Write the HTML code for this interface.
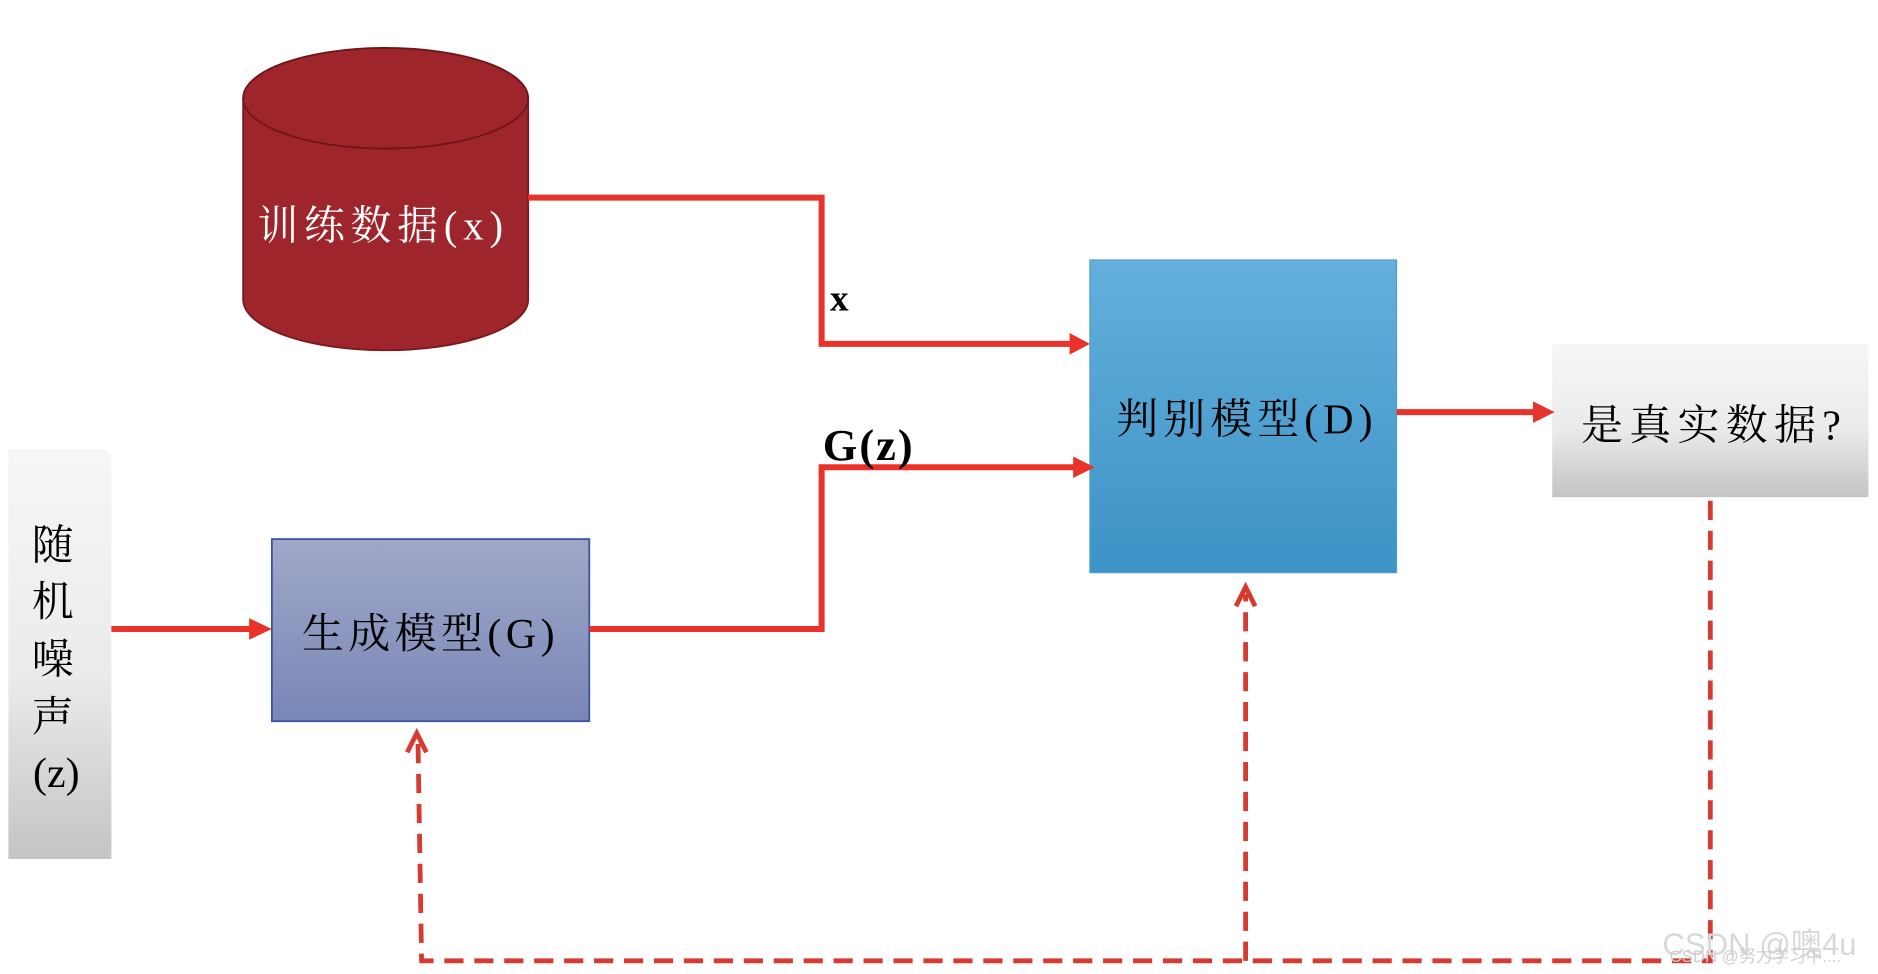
<!DOCTYPE html>
<html><head><meta charset="utf-8"><style>
html,body{margin:0;padding:0;background:#fff;width:1878px;height:974px;overflow:hidden}
</style></head><body>
<svg width="1878" height="974" viewBox="0 0 1568 813" preserveAspectRatio="none" xmlns="http://www.w3.org/2000/svg">
<defs>
<linearGradient id="gd" x1="0" y1="0" x2="0" y2="1"><stop offset="0" stop-color="#64afdc"/><stop offset="1" stop-color="#3d93c6"/></linearGradient>
<linearGradient id="gg" x1="0" y1="0" x2="0" y2="1"><stop offset="0" stop-color="#a0a8c8"/><stop offset="1" stop-color="#7987b6"/></linearGradient>
<linearGradient id="gw" x1="0" y1="0" x2="0" y2="1"><stop offset="0" stop-color="#f6f6f6"/><stop offset="0.55" stop-color="#ebebeb"/><stop offset="1" stop-color="#c4c4c4"/></linearGradient>
</defs>
<g font-family="'Liberation Serif','Noto Serif CJK SC',serif">
<path d="M203,82 L203,250 A118,42 0 0 0 441,250 L441,82 Z" fill="#9e252b" stroke="#7a1a1f" stroke-width="1.5"/>
<ellipse cx="322" cy="82" rx="119" ry="42" fill="#9e252b" stroke="#6e1519" stroke-width="1.5"/>
<text x="215" y="200" font-size="34" fill="#fff" letter-spacing="5" textLength="210">训练数据(x)</text>
<rect x="910" y="217" width="256" height="261" fill="url(#gd)" stroke="#4a9fd2"/>
<text x="932" y="362" font-size="35" textLength="214">判别模型(D)</text>
<path d="M7,375 L85,375 Q93,375 93,385 L93,717 L7,717 Z" fill="url(#gw)"/>
<g font-size="35" text-anchor="middle"><text x="44" y="467">随</text><text x="44" y="514">机</text><text x="44" y="562">噪</text><text x="44" y="610">声</text><text x="47" y="657">(z)</text></g>
<rect x="227" y="450" width="265" height="152" fill="url(#gg)" stroke="#3b52a0" stroke-width="1.5"/>
<text x="252" y="541" font-size="35" textLength="211">生成模型(G)</text>
<rect x="1296" y="287" width="264" height="128" fill="url(#gw)"/>
<text x="1320" y="367" font-size="35" textLength="217">是真实数据?</text>
<g stroke="#e8322a" stroke-width="5" fill="none">
<polyline points="441,165 686,165 686,287 895,287"/>
<polyline points="492,525 686,525 686,390 898,390"/>
<line x1="93" y1="525" x2="212" y2="525"/>
<line x1="1166" y1="344" x2="1282" y2="344"/>
</g>
<g fill="#e8322a">
<polygon points="893,278 910,287 893,296"/>
<polygon points="896,381 914,390 896,399"/>
<polygon points="208,516 227,525 208,534"/>
<polygon points="1280,335 1298,344 1280,353"/>
</g>
<text x="693" y="259" font-size="31" font-weight="bold" font-family="'Liberation Serif',serif">x</text>
<text x="687" y="384" font-size="37" font-weight="bold" font-family="'Liberation Serif',serif" textLength="75">G(z)</text>
<g stroke="#d63a30" stroke-width="4" fill="none" stroke-dasharray="16,9">
<polyline points="1428,418 1428,802 352,802 349,620"/>
<line x1="1040" y1="802" x2="1040" y2="496"/>
</g>
<g stroke="#d63a30" stroke-width="4" fill="none">
<polyline points="340,628 348,612 356,628"/>
<polyline points="1032,506 1040,490 1048,506"/>
</g>
<text x="1388" y="797" font-size="26" fill="#d8d8d8" font-family="'Liberation Sans','Noto Sans CJK SC',sans-serif">CSDN @噢4u</text>
<text x="1394" y="803" font-size="14" fill="#cfcfcf" font-family="'Liberation Sans','Noto Sans CJK SC',sans-serif">CSDN @努力学习中....</text>
</g>
</svg>
</body></html>
